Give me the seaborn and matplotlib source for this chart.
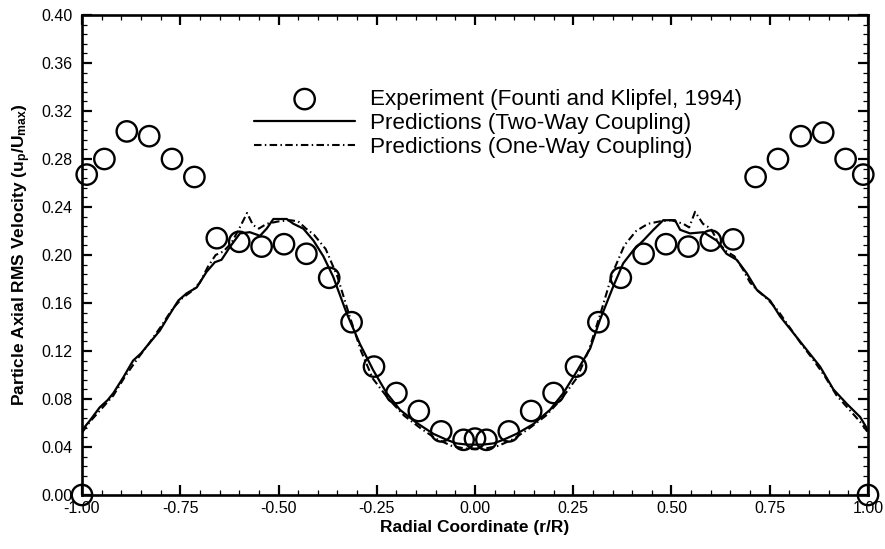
import numpy as np
import pandas as pd
import matplotlib
matplotlib.use("Agg")
import matplotlib.pyplot as plt
from matplotlib.ticker import MultipleLocator, FormatStrFormatter
import seaborn as sns

# ---------------- data ----------------
exp_r = [-1.000, -0.988, -0.943, -0.886, -0.829, -0.771, -0.714, -0.657, -0.600,
         -0.543, -0.486, -0.429, -0.371, -0.314, -0.257, -0.200, -0.143, -0.086,
         -0.029, 0.000, 0.029, 0.086, 0.143, 0.200, 0.257, 0.314, 0.371, 0.429,
         0.486, 0.543, 0.600, 0.657, 0.714, 0.771, 0.829, 0.886, 0.943, 0.988, 1.000]
exp_v = [0.000, 0.267, 0.280, 0.303, 0.299, 0.280, 0.265, 0.214, 0.211,
         0.207, 0.209, 0.201, 0.181, 0.144, 0.107, 0.085, 0.070, 0.053,
         0.046, 0.047, 0.046, 0.053, 0.070, 0.085, 0.107, 0.144, 0.181, 0.201,
         0.209, 0.207, 0.212, 0.213, 0.265, 0.280, 0.299, 0.302, 0.280, 0.267, 0.000]

two_r = [-1.000, -0.980, -0.955, -0.935, -0.920, -0.895, -0.870, -0.850, -0.835,
         -0.802, -0.776, -0.755, -0.734, -0.708, -0.683, -0.662, -0.645, -0.623,
         -0.598, -0.573, -0.547, -0.530, -0.513, -0.479, -0.462, -0.437, -0.411,
         -0.386, -0.361, -0.326, -0.293, -0.259, -0.225, -0.191, -0.148, -0.106,
         -0.072, -0.047, -0.020, 0.000, 0.020, 0.047, 0.072, 0.106, 0.148, 0.191,
         0.225, 0.259, 0.293, 0.318, 0.352, 0.377, 0.403, 0.428, 0.454, 0.479,
         0.509, 0.522, 0.547, 0.581, 0.615, 0.640, 0.666, 0.691, 0.717, 0.751,
         0.776, 0.810, 0.844, 0.878, 0.912, 0.946, 0.980, 1.000]
two_v = [0.054, 0.062, 0.073, 0.079, 0.085, 0.098, 0.112, 0.118, 0.124,
         0.137, 0.151, 0.162, 0.168, 0.173, 0.186, 0.194, 0.196, 0.207,
         0.218, 0.219, 0.216, 0.222, 0.230, 0.230, 0.226, 0.222, 0.212,
         0.199, 0.182, 0.151, 0.126, 0.104, 0.085, 0.071, 0.060, 0.051,
         0.046, 0.043, 0.042, 0.042, 0.042, 0.043, 0.046, 0.051, 0.059, 0.071,
         0.085, 0.103, 0.122, 0.146, 0.174, 0.193, 0.204, 0.212, 0.221, 0.229,
         0.229, 0.221, 0.218, 0.219, 0.212, 0.201, 0.196, 0.185, 0.171, 0.162,
         0.149, 0.135, 0.121, 0.107, 0.088, 0.076, 0.065, 0.054]

one_r = [-1.000, -0.980, -0.950, -0.920, -0.890, -0.860, -0.830, -0.800, -0.770,
         -0.745, -0.720, -0.700, -0.680, -0.660, -0.640, -0.620, -0.600, -0.580,
         -0.565, -0.550, -0.530, -0.500, -0.470, -0.450, -0.430, -0.410, -0.380,
         -0.350, -0.320, -0.290, -0.260, -0.220, -0.180, -0.140, -0.100, -0.060,
         -0.030, 0.000, 0.030, 0.060, 0.100, 0.140, 0.180, 0.220, 0.260, 0.290,
         0.320, 0.350, 0.380, 0.410, 0.440, 0.470, 0.500, 0.530, 0.545, 0.560,
         0.580, 0.600, 0.620, 0.640, 0.660, 0.680, 0.700, 0.720, 0.745, 0.770,
         0.800, 0.830, 0.860, 0.890, 0.920, 0.950, 0.980, 1.000]
one_v = [0.052, 0.061, 0.072, 0.083, 0.099, 0.113, 0.126, 0.140, 0.155,
         0.164, 0.170, 0.177, 0.190, 0.200, 0.203, 0.210, 0.222, 0.235,
         0.225, 0.222, 0.226, 0.228, 0.229, 0.228, 0.222, 0.217, 0.205,
         0.182, 0.150, 0.120, 0.097, 0.080, 0.066, 0.056, 0.047, 0.041,
         0.039, 0.038, 0.039, 0.041, 0.047, 0.056, 0.066, 0.080, 0.098, 0.121,
         0.152, 0.185, 0.208, 0.220, 0.226, 0.228, 0.229, 0.226, 0.223, 0.236,
         0.226, 0.222, 0.210, 0.203, 0.199, 0.189, 0.177, 0.170, 0.163, 0.154,
         0.140, 0.126, 0.113, 0.099, 0.083, 0.072, 0.061, 0.052]

x_ticks = [-1.00, -0.75, -0.50, -0.25, 0.00, 0.25, 0.50, 0.75, 1.00]
y_ticks = [0.00, 0.04, 0.08, 0.12, 0.16, 0.20, 0.24, 0.28, 0.32, 0.36, 0.40]

lab_exp = "Experiment (Founti and Klipfel, 1994)"
lab_two = "Predictions (Two-Way Coupling)"
lab_one = "Predictions (One-Way Coupling)"

# ---------------- style ----------------
sns.set_theme(style="ticks")
plt.rcParams['font.family'] = ['Liberation Sans', 'DejaVu Sans']
plt.rcParams['text.color'] = 'black'
plt.rcParams['axes.labelcolor'] = 'black'
plt.rcParams['mathtext.fontset'] = 'custom'
plt.rcParams['mathtext.rm'] = 'Liberation Sans:bold'
plt.rcParams['mathtext.it'] = 'Liberation Sans:bold'
plt.rcParams['mathtext.bf'] = 'Liberation Sans:bold'

fig = plt.figure(figsize=(8.85, 5.49), dpi=100)
ax = fig.add_axes([82/885, 1-495/549, (868-82)/885, (495-15)/549])

df_exp = pd.DataFrame({"r": exp_r, "v": exp_v})
df_two = pd.DataFrame({"r": two_r, "v": two_v})
df_one = pd.DataFrame({"r": one_r, "v": one_v})

sns.scatterplot(data=df_exp, x="r", y="v", ax=ax, marker="o", s=215,
                facecolor="none", edgecolor="black", linewidth=1.7,
                label=lab_exp, clip_on=False, zorder=3)
sns.lineplot(data=df_two, x="r", y="v", ax=ax, sort=False, estimator=None,
             color="black", linewidth=1.6, label=lab_two, zorder=2)
sns.lineplot(data=df_one, x="r", y="v", ax=ax, sort=False, estimator=None,
             color="black", linewidth=1.5, linestyle=(0, (3.6, 1.6, 0.7, 1.6)),
             label=lab_one, zorder=2)

ax.set_xlim(-1.0, 1.0)
ax.set_ylim(0.0, 0.40)
ax.set_xticks(x_ticks)
ax.set_yticks(y_ticks)
ax.xaxis.set_major_formatter(FormatStrFormatter('%.2f'))
ax.yaxis.set_major_formatter(FormatStrFormatter('%.2f'))
ax.xaxis.set_minor_locator(MultipleLocator(0.05))
ax.yaxis.set_minor_locator(MultipleLocator(0.008))
ax.tick_params(which='both', direction='in', top=True, right=True,
               labelsize=11.5, colors='black')
ax.tick_params(which='major', length=7.5, width=1.6)
ax.tick_params(which='minor', length=3.8, width=0.9)
ax.tick_params(axis='x', which='major', pad=4)
ax.tick_params(axis='y', which='major', pad=7)
for s in ax.spines.values():
    s.set_linewidth(1.9)
    s.set_color('black')

ax.set_xlabel("Radial Coordinate (r/R)", fontsize=12.5, fontweight='bold',
              labelpad=3, color='black')
ax.set_ylabel(r"Particle Axial RMS Velocity (u$_{\mathrm{p}}$/U$_{\mathrm{max}}$)",
              fontsize=12.5, fontweight='bold', labelpad=6, color='black')

leg = ax.legend(loc='upper left', bbox_to_anchor=(254/885, 1-89/549),
                bbox_transform=fig.transFigure, frameon=False, fontsize=16.2,
                handlelength=4.5, handletextpad=0.65, labelspacing=0.13,
                borderpad=0, borderaxespad=0)
for t in leg.get_texts():
    t.set_color('black')

fig.savefig("out.png", dpi=100)
